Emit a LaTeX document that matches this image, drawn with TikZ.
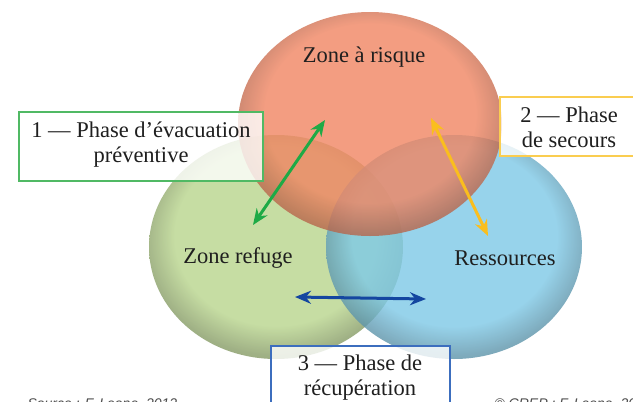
\documentclass[tikz,border=0pt]{standalone}
\usepackage{fontspec}
\setmainfont{Liberation Serif}
\setsansfont{Liberation Sans}
\usetikzlibrary{arrows.meta}
\definecolor{redc}{RGB}{240,133,98}
\definecolor{greenc}{RGB}{186,214,143}
\definecolor{bluec}{RGB}{126,201,231}
\definecolor{gbox}{RGB}{80,185,100}
\definecolor{ybox}{RGB}{250,205,80}
\definecolor{bbox}{RGB}{60,110,190}
\definecolor{garrow}{RGB}{30,170,70}
\definecolor{yarrow}{RGB}{250,190,30}
\definecolor{barrow}{RGB}{20,70,160}
\pgfdeclareradialshading{redball}{\pgfpoint{0bp}{4bp}}{color(0bp)=(redc); color(20bp)=(redc); color(26bp)=(redc!78!black); color(29bp)=(redc!70!black); color(50bp)=(redc!70!black)}
\pgfdeclareradialshading{greenball}{\pgfpoint{0bp}{4bp}}{color(0bp)=(greenc); color(20bp)=(greenc); color(26bp)=(greenc!75!black); color(29bp)=(greenc!68!black); color(50bp)=(greenc!68!black)}
\pgfdeclareradialshading{blueball}{\pgfpoint{0bp}{4bp}}{color(0bp)=(bluec); color(20bp)=(bluec); color(26bp)=(bluec!75!black); color(29bp)=(bluec!68!black); color(50bp)=(bluec!68!black)}
\tikzset{
  zonelabel/.style={font=\fontsize{22.5}{25}\selectfont, text=black!88},
  phasebox/.style={fill=white, fill opacity=0.8, line width=1.8pt},
  dblarrow/.style={line width=3pt, {Stealth[length=16pt,width=13pt]}-{Stealth[length=16pt,width=13pt]}},
  srcnote/.style={font=\sffamily\itshape\fontsize{14}{16}\selectfont, text=black!70, anchor=west}
}
\begin{document}
\begin{tikzpicture}[x=1pt,y=-1pt]
\useasboundingbox (0,0) rectangle (633,402);
\fill[white] (0,0) rectangle (633,402);
% circles
\shade[shading=greenball, opacity=0.82] (276,247) ellipse [x radius=127pt, y radius=112pt];
\shade[shading=blueball, opacity=0.8] (454,247) ellipse [x radius=128pt, y radius=112pt];
\shade[shading=redball, opacity=0.8] (370,124) ellipse [x radius=132pt, y radius=112pt];
% zone labels
\node[zonelabel] (risque) at (364,57) {Zone à risque};
\node[zonelabel] (refuge) at (238,258) {Zone refuge};
\node[zonelabel] (ress) at (505,258) {Ressources};
% phase boxes
\draw[phasebox, draw=gbox] (19,112) rectangle (263,181);
\node[zonelabel, align=center] (p1) at (141,145) {1 — Phase d’évacuation\\préventive};
\draw[phasebox, draw=ybox] (500,97) rectangle (645,156);
\node[zonelabel, align=center] (p2) at (569,127) {2 — Phase\\de secours};
\draw[phasebox, draw=bbox] (271,346) rectangle (450,420);
\node[zonelabel, align=center] (p3) at (360,378) {3 — Phase de\\récupération};
% arrows
\coordinate (g1) at (325,120);
\coordinate (g2) at (253,225);
\coordinate (y1) at (431,118);
\coordinate (y2) at (488,236);
\coordinate (b1) at (295,297);
\coordinate (b2) at (426,299);
\draw[dblarrow, garrow] (g1) -- (g2);
\draw[dblarrow, yarrow] (y1) -- (y2);
\draw[dblarrow, barrow] (b1) -- (b2);
% source notes
\node[srcnote] (src) at (24,405) {Source : F. Leone, 2012};
\node[srcnote] (copy) at (491,405) {© CREP : F. Leone, 2012};
\end{tikzpicture}
\end{document}
